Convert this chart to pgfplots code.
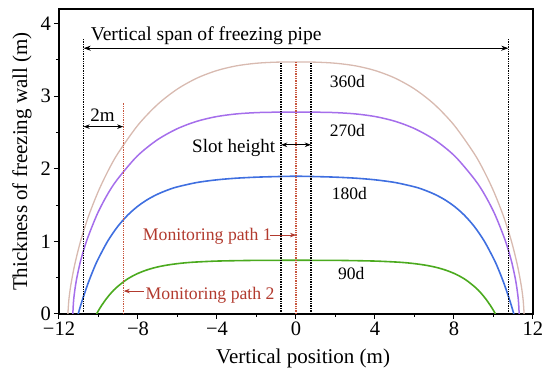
\documentclass[border=0pt]{standalone}
\usepackage{pgfplots}
\pgfplotsset{compat=1.18}
\usepackage{fontspec}
\setmainfont{Liberation Serif}
\usetikzlibrary{arrows.meta}
\definecolor{c360}{HTML}{D8BAB0}
\definecolor{c270}{HTML}{A56EEB}
\definecolor{c180}{HTML}{3F6FE0}
\definecolor{c90}{HTML}{4BAA1E}
\definecolor{redline}{HTML}{C8553D}
\definecolor{redtext}{HTML}{B23A2E}
\begin{document}
\begin{tikzpicture}
\begin{axis}[
  at={(0,0)}, anchor=south west,
  scale only axis, width=474pt, height=305pt,
  xmin=-12, xmax=12, ymin=0, ymax=4.2,
  xtick={-12,-8,-4,0,4,8,12},
  xticklabels={−12,−8,−4,0,4,8,12},
  ytick={0,1,2,3,4},
  yticklabels={0,1,2,3,4},
  minor x tick num=1, minor y tick num=1,
  tick align=outside, xtick pos=bottom, ytick pos=left,
  major tick length=5pt, minor tick length=3pt,
  tick style={black, line width=1pt},
  axis line style={line width=1.2pt},
  ticklabel style={font=\fontsize{20.5}{24}\selectfont},
  x tick label style={inner sep=1pt, yshift=-2pt},
  y tick label style={inner sep=3pt},
  xlabel={Vertical position (m)},
  ylabel={Thickness of freezing wall (m)},
  label style={font=\fontsize{21}{25}\selectfont},
  xlabel style={at={(axis description cs:0.515,-0.1607)}, anchor=base},
  ylabel style={at={(axis description cs:-0.078,0.5)}, anchor=center},
]
\addplot[c360, line width=1.3pt, smooth] coordinates {
(-11.55,0) (-11.5,0.196) (-11.4,0.400) (-11.2,0.685) (-10.9,1.010) (-10.5,1.351) (-10,1.695) (-9.5,1.979) (-9,2.219) (-8,2.602) (-7,2.888) (-6,3.099) (-5,3.250) (-4,3.353) (-3,3.418) (-2,3.453) (-1,3.468) (0,3.47)
(1,3.468) (2,3.453) (3,3.418) (4,3.353) (5,3.250) (6,3.099) (7,2.888) (8,2.602) (9,2.219) (9.5,1.979) (10,1.695) (10.5,1.351) (10.9,1.010) (11.2,0.685) (11.4,0.400) (11.5,0.196) (11.55,0)
};
\addplot[c270, line width=1.5pt, smooth] coordinates {
(-11.3,0) (-11.26,0.190) (-11.18,0.364) (-11.08,0.521) (-10.88,0.759) (-10.57,1.031) (-10.07,1.372) (-9.57,1.635) (-9.06,1.848) (-8.06,2.169) (-7.05,2.393) (-6.04,2.548) (-5.04,2.652) (-4.03,2.718) (-3.02,2.755) (-2.01,2.773) (-1.01,2.779) (0,2.78)
(1.01,2.779) (2.01,2.773) (3.02,2.755) (4.03,2.718) (5.04,2.652) (6.04,2.548) (7.05,2.393) (8.06,2.169) (9.06,1.848) (9.57,1.635) (10.07,1.372) (10.57,1.031) (10.88,0.759) (11.08,0.521) (11.18,0.364) (11.26,0.190) (11.3,0)
};
\addplot[c180, line width=1.6pt, smooth] coordinates {
(-11.03,0) (-10.93,0.093) (-10.78,0.224) (-10.53,0.421) (-10.28,0.596) (-10.03,0.750) (-9.53,1.005) (-9.03,1.204) (-8.53,1.359) (-8.03,1.480) (-7.53,1.574) (-7.03,1.647) (-6.53,1.704) (-6.03,1.749) (-5.03,1.810) (-4.03,1.847) (-3.03,1.870) (-2.03,1.884) (-1.03,1.892) (0,1.897)
(1.03,1.892) (2.03,1.884) (3.03,1.870) (4.03,1.847) (5.03,1.810) (6.03,1.749) (6.53,1.704) (7.03,1.647) (7.53,1.574) (8.03,1.480) (8.53,1.359) (9.03,1.204) (9.53,1.005) (10.03,0.750) (10.28,0.596) (10.53,0.421) (10.78,0.224) (10.93,0.093) (11.03,0)
};
\addplot[c90, line width=1.6pt, smooth] coordinates {
(-10.1,0) (-10.0,0.048) (-9.85,0.114) (-9.6,0.211) (-9.35,0.293) (-9.1,0.362) (-8.6,0.470) (-8.1,0.547) (-7.6,0.602) (-7.1,0.642) (-6.6,0.670) (-6.1,0.690) (-5.6,0.705) (-5.1,0.715) (-4.1,0.728) (-3.1,0.734) (-2.1,0.738) (-1.1,0.739) (0,0.740)
(1.1,0.739) (2.1,0.738) (3.1,0.734) (4.1,0.728) (5.1,0.715) (5.6,0.705) (6.1,0.690) (6.6,0.670) (7.1,0.642) (7.6,0.602) (8.1,0.547) (8.6,0.470) (9.1,0.362) (9.35,0.293) (9.6,0.211) (9.85,0.114) (10.0,0.048) (10.1,0)
};
% vertical span
\draw[black, densely dotted, line width=1.4pt] (axis cs:-10.75,0) -- (axis cs:-10.75,3.8);
\draw[black, densely dotted, line width=1.4pt] (axis cs:10.75,0) -- (axis cs:10.75,3.8);
\draw[black, line width=0.8pt, {Stealth[length=7pt,width=5pt]}-{Stealth[length=7pt,width=5pt]}] (axis cs:-10.75,3.66) -- (axis cs:10.75,3.66);
\node[anchor=base west, inner sep=0, font=\fontsize{19.6}{21}\selectfont] at (axis cs:-10.4,3.76) {Vertical span of freezing pipe};
% slot
\draw[black, densely dotted, line width=1.4pt] (axis cs:-0.75,0) -- (axis cs:-0.75,3.47);
\draw[black, densely dotted, line width=1.4pt] (axis cs:0.75,0) -- (axis cs:0.75,3.47);
\draw[redline, densely dotted, line width=1.3pt] (axis cs:0,0) -- (axis cs:0,3.47);
\draw[black, line width=0.8pt, {Stealth[length=6pt,width=4.5pt]}-{Stealth[length=6pt,width=4.5pt]}] (axis cs:-0.75,2.33) -- (axis cs:0.75,2.33);
\node[anchor=base east, inner sep=0, font=\fontsize{19}{21}\selectfont] at (axis cs:-1.05,2.23) {Slot height};
% 2m
\draw[redline, densely dotted, line width=1.3pt] (axis cs:-8.75,0) -- (axis cs:-8.75,2.9);
\draw[black, line width=0.8pt, {Stealth[length=6pt,width=4.5pt]}-{Stealth[length=6pt,width=4.5pt]}] (axis cs:-10.75,2.58) -- (axis cs:-8.75,2.58);
\node[anchor=base, inner sep=0, font=\fontsize{19}{21}\selectfont] at (axis cs:-9.8,2.645) {2m};
% monitoring paths
\node[anchor=base west, inner sep=0, text=redtext, font=\fontsize{17.7}{20}\selectfont] at (axis cs:-7.76,1.008) {Monitoring path 1};
\draw[redtext, line width=0.8pt, -{Stealth[length=6pt,width=4.5pt]}] (axis cs:-1.3,1.087) -- (axis cs:0,1.087);
\node[anchor=base west, inner sep=0, text=redtext, font=\fontsize{17.7}{20}\selectfont] at (axis cs:-7.62,0.193) {Monitoring path 2};
\draw[redtext, line width=0.8pt, -{Stealth[length=6pt,width=4.5pt]}] (axis cs:-7.7,0.316) -- (axis cs:-8.72,0.316);
% curve labels
\node[anchor=base, inner sep=0, font=\fontsize{17.5}{20}\selectfont] at (axis cs:2.6,3.12) {360d};
\node[anchor=base, inner sep=0, font=\fontsize{17.5}{20}\selectfont] at (axis cs:2.6,2.45) {270d};
\node[anchor=base, inner sep=0, font=\fontsize{17.5}{20}\selectfont] at (axis cs:2.7,1.58) {180d};
\node[anchor=base, inner sep=0, font=\fontsize{17.5}{20}\selectfont] at (axis cs:2.8,0.477) {90d};
\end{axis}
\pgfresetboundingbox
\path (-59pt,-60pt) rectangle (491pt,314pt);
\end{tikzpicture}
\end{document}
